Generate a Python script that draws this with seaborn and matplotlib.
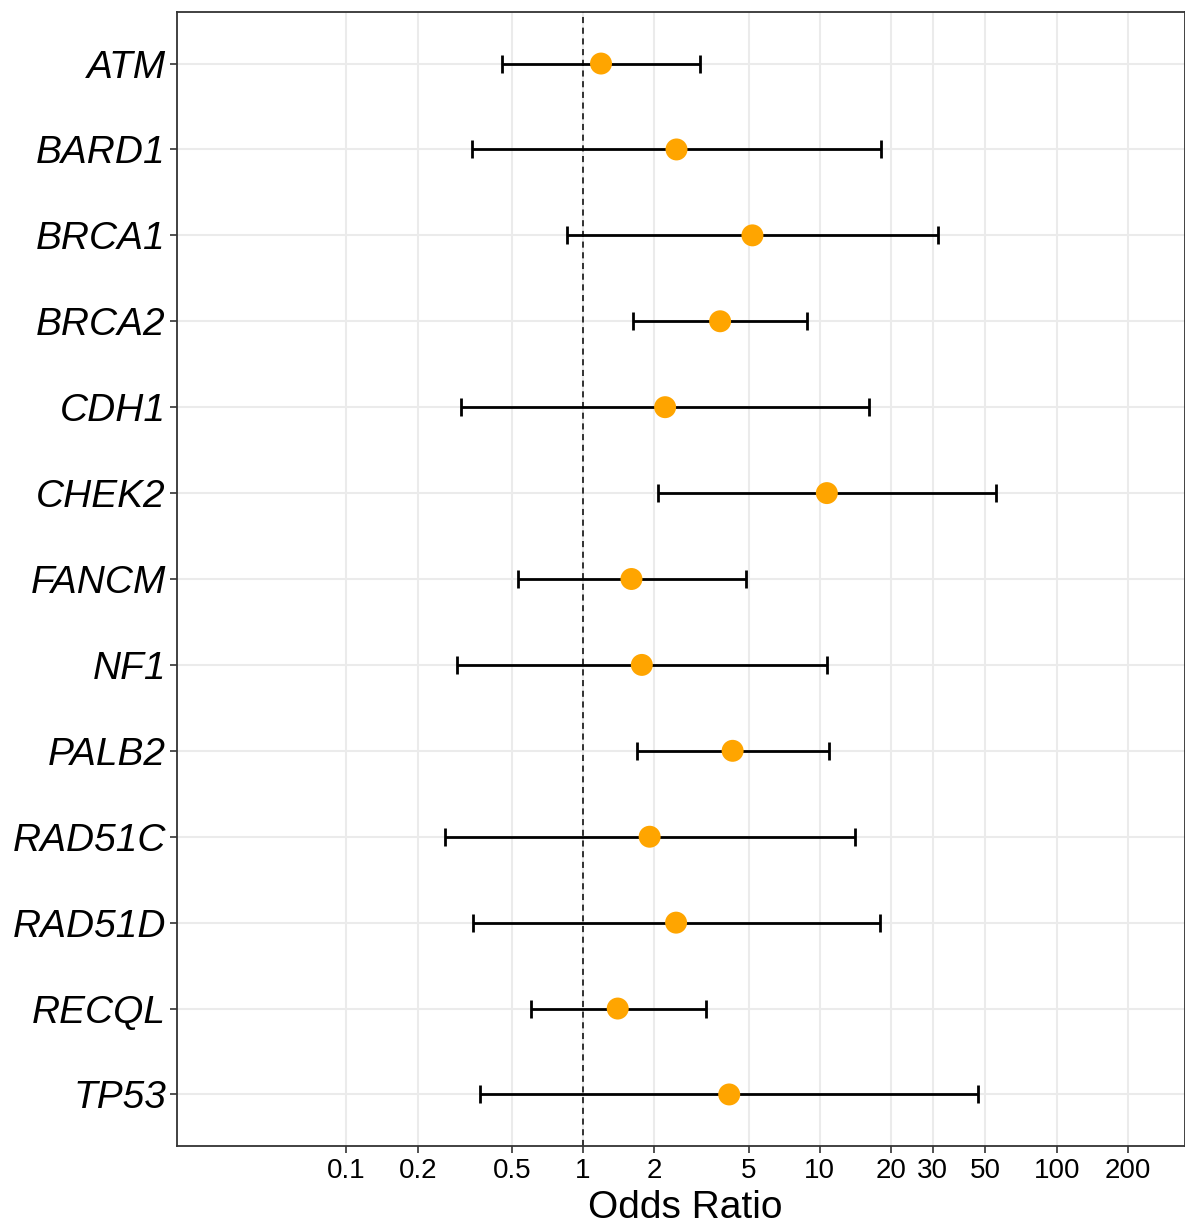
import matplotlib
matplotlib.use("Agg")
import matplotlib.pyplot as plt
import seaborn as sns
import pandas as pd
import numpy as np

# Gene-level odds ratios with 95% confidence intervals
genes = ["ATM", "BARD1", "BRCA1", "BRCA2", "CDH1", "CHEK2", "FANCM",
         "NF1", "PALB2", "RAD51C", "RAD51D", "RECQL", "TP53"]
odds_ratio = [1.19, 2.48, 5.19, 3.79, 2.22, 10.7, 1.60,
              1.77, 4.28, 1.91, 2.47, 1.40, 4.14]
ci_lower = [0.455, 0.341, 0.855, 1.63, 0.306, 2.08, 0.532,
            0.294, 1.69, 0.262, 0.342, 0.600, 0.368]
ci_upper = [3.13, 18.05, 31.6, 8.81, 16.2, 55.2, 4.86,
            10.7, 10.9, 14.1, 18.0, 3.30, 46.5]

x_breaks = [0.1, 0.2, 0.5, 1, 2, 5, 10, 20, 30, 50, 100, 200]
x_break_labels = ["0.1", "0.2", "0.5", "1", "2", "5", "10", "20", "30", "50", "100", "200"]

df = pd.DataFrame({"gene": genes, "or": odds_ratio,
                   "lo": ci_lower, "hi": ci_upper})
df["pos"] = np.arange(len(df))

sns.set_theme(style="whitegrid")
plt.rcParams["font.family"] = ["Liberation Sans", "DejaVu Sans"]

fig = plt.figure(figsize=(11.85, 12.30), dpi=100)
ax = fig.add_axes([177 / 1185, 84 / 1230, 1 - 177 / 1185, (1146 - 12) / 1230])

ax.set_xscale("log")

# reference line at OR = 1
ax.axvline(1, color="black", linestyle=(0, (4, 3)), linewidth=1.1, zorder=2)

# confidence intervals
ax.errorbar(df["or"], df["pos"],
            xerr=[df["or"] - df["lo"], df["hi"] - df["or"]],
            fmt="none", ecolor="black", elinewidth=2.0,
            capsize=6.7, capthick=2.0, zorder=3)

# point estimates
sns.scatterplot(data=df, x="or", y="pos", ax=ax, color="#FFA500",
                s=250, edgecolor="none", zorder=4, legend=False)

ax.set_xlim(0.01926, 348.5)
ax.set_ylim(len(genes) - 1 + 0.6, -0.6)

ax.set_xticks(x_breaks)
ax.set_xticklabels(x_break_labels)
ax.xaxis.set_minor_locator(matplotlib.ticker.NullLocator())
ax.set_yticks(df["pos"])
ax.set_yticklabels(genes, style="italic")

ax.tick_params(axis="x", labelsize=20, length=5, width=1.2, color="#333333",
               labelcolor="black", pad=4, bottom=True)
ax.tick_params(axis="y", labelsize=28, length=5, width=1.2, color="#333333",
               labelcolor="black", pad=3, left=True)

ax.grid(True, color="#EBEBEB", linewidth=1.5)
ax.set_axisbelow(True)
for side in ["left", "bottom", "top", "right"]:
    ax.spines[side].set_color("#333333")
    ax.spines[side].set_linewidth(1.3)
    ax.spines[side].set_visible(True)

ax.set_xlabel("Odds Ratio", fontsize=28, color="black")
ax.xaxis.set_label_coords(0.504, -0.039)
ax.set_ylabel("")

fig.savefig("out.png", dpi=100, facecolor="white")
